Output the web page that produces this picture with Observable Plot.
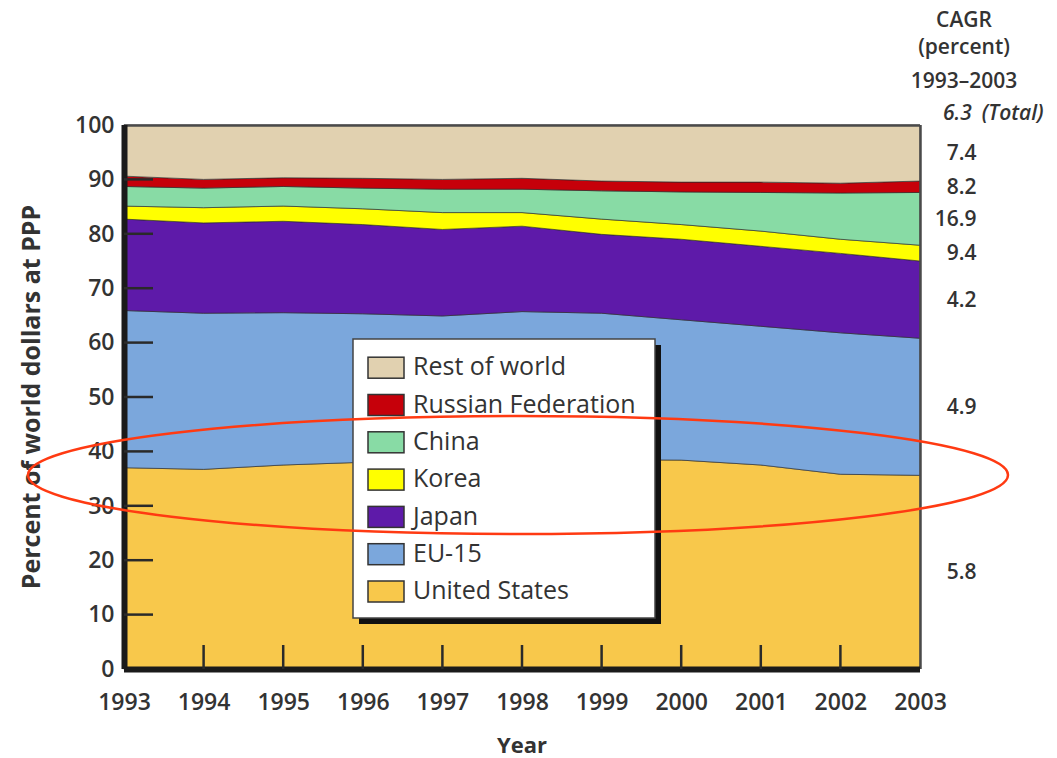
<!DOCTYPE html>
<html><head><meta charset="utf-8">
<script src="https://cdn.jsdelivr.net/npm/d3@7"></script>
<script src="https://cdn.jsdelivr.net/npm/@observablehq/plot@0.6"></script>
<style>
body{margin:0;background:#fff;}
#chart{position:relative;width:1057px;height:758px;}
</style>
</head><body><div id="chart"></div>
<script>
const years = [1993,1994,1995,1996,1997,1998,1999,2000,2001,2002,2003];
const regions = ["United States","EU-15","Japan","Korea","China","Russian Federation","Rest of world"];
const colors = ["#f8c84b","#7ba7dc","#5e1aa9","#ffff00","#88dba5","#c6000a","#e1d1b0"];
const usShare     = [37.0,36.7,37.5,38.0,38.3,38.5,38.5,38.4,37.5,35.8,35.6];
const euShare     = [28.9,28.7,28.0,27.3,26.6,27.2,26.9,25.8,25.5,26.0,25.2];
const japanShare  = [16.8,16.6,16.8,16.4,15.9,15.7,14.5,14.8,14.7,14.6,14.2];
const koreaShare  = [2.4,2.8,2.8,2.9,3.1,2.5,2.8,2.7,2.8,2.6,2.9];
const chinaShare  = [3.6,3.6,3.6,3.8,4.3,4.3,5.2,6.0,7.1,8.5,9.7];
const russiaShare = [1.9,1.6,1.6,1.8,1.8,2.0,1.8,1.8,1.9,1.8,2.1];
const restShare   = [9.4,10.0,9.7,9.8,10.0,9.8,10.3,10.5,10.5,10.7,10.3];
const cagr = ["5.8","4.9","4.2","9.4","16.9","8.2","7.4"];
const cagrTotal = "6.3";
const cagrHeader = ["CAGR","(percent)","1993–2003"];
const yTicks = [0,10,20,30,40,50,60,70,80,90,100];
const xLabel = "Year";
const yLabel = "Percent of world dollars at PPP";

const series = [usShare,euShare,japanShare,koreaShare,chinaShare,russiaShare,restShare];
const rows = [];
years.forEach((yr,i)=>regions.forEach((r,j)=>rows.push({year:yr,region:r,share:series[j][i]})));

// midpoints of each band in the last year, for the CAGR labels
const last = years.length-1;
let cum = 0;
const cagrRows = regions.map((r,j)=>{const v=series[j][last]; const mid=cum+v/2; cum+=v; return {region:r,mid,text:cagr[j]};});

const font = "'Open Sans', 'DejaVu Sans', sans-serif";
const plot = Plot.plot({
  width:1057, height:758,
  marginLeft:124, marginRight:137, marginTop:125, marginBottom:89,
  style:{fontFamily:font, background:"#fff", overflow:"visible"},
  x:{domain:[1993,2003], label:null},
  y:{domain:[0,100], label:null},
  color:{domain:regions, range:colors},
  marks:[
    Plot.areaY(rows,{x:"year", y:"share", z:"region", fill:"region", order:regions, stroke:"#2b2b2b", strokeWidth:0.8, strokeOpacity:0.8}),
    Plot.ruleY([100],{stroke:"#4a4a4a", strokeWidth:2.5}),
    Plot.ruleX([2003],{stroke:"#4a4a4a", strokeWidth:2.5}),
    Plot.ruleX([1993],{stroke:"#1a1a1a", strokeWidth:6}),
    Plot.ruleY([0],{stroke:"#1a1a1a", strokeWidth:6}),
    Plot.axisX(years,{anchor:"bottom", tickSize:0, tickPadding:24, fontSize:23, fontWeight:600, fill:"#333", tickFormat:d=>String(d)}),
    Plot.axisY(yTicks,{anchor:"left", tickSize:0, tickPadding:10, fontSize:23, fontWeight:600, fill:"#333"}),
    Plot.text(cagrRows,{x:()=>2003, y:"mid", text:"text", dx:56, textAnchor:"end", fontSize:21, fontWeight:600, fill:"#333"})
  ]
});
document.getElementById("chart").appendChild(plot);

const svg = d3.select(plot);
const xs = plot.scale("x"), ys = plot.scale("y");
const X = v=>xs.apply(v), Y = v=>ys.apply(v);

// inner tick marks
const tg = svg.append("g").attr("stroke","#2a2a2a").attr("stroke-width",2.5);
yTicks.filter(t=>t>0 && t<100).forEach(t=>{
  tg.append("line").attr("x1",X(1993)).attr("x2",X(1993)+29).attr("y1",Y(t)).attr("y2",Y(t));
});
years.filter(y=>y>1993 && y<2003).forEach(y=>{
  tg.append("line").attr("x1",X(y)).attr("x2",X(y)).attr("y1",Y(0)).attr("y2",Y(0)-24);
});

// axis titles
svg.append("text").attr("x",522).attr("y",747).attr("text-anchor","middle").attr("dominant-baseline","middle")
  .attr("font-family",font).attr("font-size",22).attr("font-weight",700).attr("fill","#333").text(xLabel);
svg.append("text").attr("transform","translate(33,397) rotate(-90)").attr("text-anchor","middle").attr("dominant-baseline","middle")
  .attr("font-family",font).attr("font-size",25).attr("font-weight",700).attr("fill","#333").text(yLabel);

// CAGR header
const hx = X(2003)+44;
[21,48,82].forEach((yy,i)=>{
  svg.append("text").attr("x",hx).attr("y",yy).attr("text-anchor","middle").attr("dominant-baseline","middle")
    .attr("font-family",font).attr("font-size",21).attr("font-weight",600).attr("fill","#333").text(cagrHeader[i]);
});
const tt = svg.append("text").attr("x",X(2003)+23).attr("y",114).attr("text-anchor","start").attr("dominant-baseline","middle")
  .attr("font-family",font).attr("font-size",21).attr("font-weight",600).attr("font-style","italic").attr("fill","#333");
tt.append("tspan").text(cagrTotal);
tt.append("tspan").attr("dx",10).text("(Total)");

// legend
const lg = svg.append("g");
const lx=353, ly=339, lw=302, lh=279;
lg.append("rect").attr("x",lx+6).attr("y",ly+6).attr("width",lw).attr("height",lh).attr("fill","#111");
lg.append("rect").attr("x",lx).attr("y",ly).attr("width",lw).attr("height",lh).attr("fill","#fff").attr("stroke","#444").attr("stroke-width",1.5);
const legendOrder = regions.slice().reverse();
legendOrder.forEach((r,i)=>{
  const cy = 367.7 + i*37.3;
  lg.append("rect").attr("x",368).attr("y",cy-10.5).attr("width",36).attr("height",21)
    .attr("fill",colors[regions.indexOf(r)]).attr("stroke","#333").attr("stroke-width",1.5);
  lg.append("text").attr("x",413).attr("y",cy+1).attr("text-anchor","start").attr("dominant-baseline","middle")
    .attr("font-family",font).attr("font-size",25).attr("font-weight",500).attr("fill","#333").text(r);
});

// red highlight ellipse
svg.append("ellipse").attr("cx",518).attr("cy",475).attr("rx",490).attr("ry",59)
  .attr("fill","none").attr("stroke","#ff3a12").attr("stroke-width",2.5);
</script>
</body></html>
